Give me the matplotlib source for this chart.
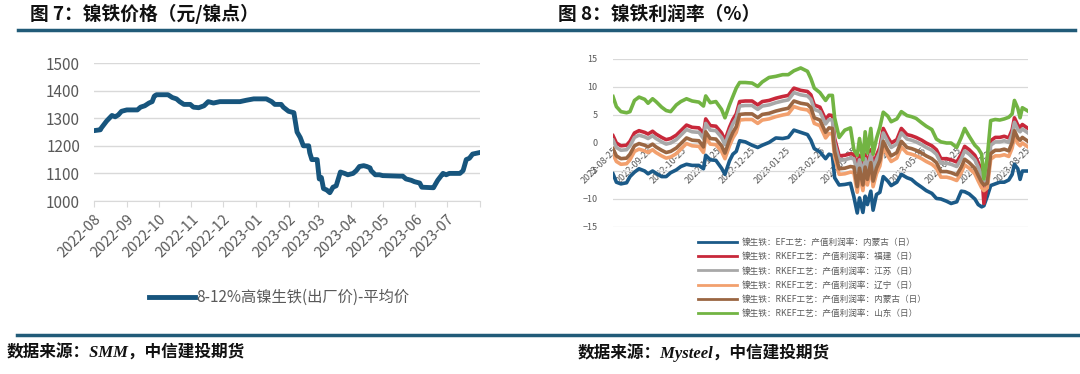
import matplotlib
matplotlib.use("Agg")
import matplotlib.pyplot as plt
import pandas as pd

plt.rcParams['font.family'] = ['Noto Sans CJK SC', 'DejaVu Sans']

# ---- 图7 data: 8-12%高镍生铁(出厂价)-平均价
price_dates = ['2022-08-01', '2022-08-07', '2022-08-08', '2022-08-13', '2022-08-18', '2022-08-21',
               '2022-08-24', '2022-08-27', '2022-09-01', '2022-09-11', '2022-09-14', '2022-09-18',
               '2022-09-22', '2022-09-25', '2022-09-27', '2022-09-29', '2022-10-10', '2022-10-14',
               '2022-10-18', '2022-10-21', '2022-10-25', '2022-10-31', '2022-11-03', '2022-11-08',
               '2022-11-13', '2022-11-17', '2022-11-22', '2022-11-28', '2022-12-17', '2022-12-23',
               '2022-12-30', '2023-01-11', '2023-01-16', '2023-01-19', '2023-01-25', '2023-01-27',
               '2023-02-01', '2023-02-06', '2023-02-09', '2023-02-12', '2023-02-15', '2023-02-20',
               '2023-02-21', '2023-02-23', '2023-02-28', '2023-03-02', '2023-03-04', '2023-03-06',
               '2023-03-09', '2023-03-12', '2023-03-15', '2023-03-18', '2023-03-20', '2023-03-22',
               '2023-03-26', '2023-03-29', '2023-04-03', '2023-04-06', '2023-04-09', '2023-04-13',
               '2023-04-16', '2023-04-19', '2023-04-20', '2023-04-24', '2023-04-28', '2023-05-01',
               '2023-05-17', '2023-05-20', '2023-05-23', '2023-05-28', '2023-05-31', '2023-06-05',
               '2023-06-07', '2023-06-18', '2023-06-19', '2023-06-22', '2023-06-26', '2023-06-27',
               '2023-06-30', '2023-07-03', '2023-07-13', '2023-07-16', '2023-07-19', '2023-07-22',
               '2023-07-25', '2023-07-31']
price_values = [1255, 1258, 1265, 1290, 1310, 1305, 1312, 1325, 1330, 1330, 1340, 1345,
                1355, 1360, 1380, 1385, 1385, 1375, 1370, 1360, 1350, 1350, 1340, 1338,
                1345, 1360, 1355, 1360, 1360, 1365, 1370, 1370, 1360, 1350, 1350, 1340,
                1325, 1320, 1250, 1230, 1200, 1200, 1175, 1150, 1150, 1080, 1085, 1045,
                1040, 1030, 1050, 1055, 1080, 1105, 1100, 1095, 1100, 1110, 1125, 1128,
                1125, 1120, 1110, 1095, 1095, 1092, 1090, 1090, 1080, 1075, 1070, 1065,
                1050, 1048, 1055, 1075, 1095, 1100, 1095, 1100, 1100, 1110, 1150, 1155,
                1170, 1175]
price_label = '8-12%高镍生铁(出厂价)-平均价'

# ---- 图8 data: 镍生铁产值利润率 (%)
profit_days = [0, 3, 7, 12, 15, 19, 23, 28, 31, 35, 38, 43, 47, 51, 56, 60, 65, 70, 76, 80,
               82, 86, 91, 96, 99, 103, 106, 109, 112, 117, 123, 128, 132, 138, 144, 150, 155, 160,
               166, 172, 175, 178, 183, 188, 191, 194, 196, 200, 205, 210, 213, 216, 218, 221,
               223, 225, 228, 230, 233, 236, 239, 243, 246, 251, 255, 260, 264, 268, 273, 277,
               282, 286, 290, 295, 299, 304, 308, 311, 315, 320, 323, 326, 328, 331, 334, 338,
               342, 346, 350, 353, 355, 358, 360, 362, 367]
ef_nmg = [-5.5, -7.0, -7.3, -7.1, -6.0, -5.2, -4.6, -5.0, -5.5, -5.0, -5.4, -6.0, -6.0, -5.3, -4.8,
          -4.2, -3.8, -4.0, -4.0, -4.6, -2.2, -3.0, -3.1, -4.5, -5.6, -3.2, -2.0, -1.5, 0.4, 0.2,
          -0.4, -0.8, -0.4, 0.1, 0.9, 0.8, 1.0, 2.3, 1.9, 1.5, 0.5, -1.0, -1.6, -2.8, -2.0, -2.2,
          -6.2, -7.5, -7.4, -7.2, -9.6, -12.5, -9.8, -12.4, -9.5, -11.0, -8.6, -12.0, -9.2, -8.8,
          -6.0, -6.8, -7.6, -7.0, -5.6, -6.2, -6.5, -7.2, -7.9, -8.5, -9.0, -9.9, -10.0, -10.4,
          -10.8, -10.5, -8.6, -8.7, -9.1, -10.0, -11.0, -11.4, -11.2, -9.5, -7.6, -7.3, -7.0,
          -7.0, -6.6, -5.6, -3.8, -4.6, -6.5, -5.0, -5.0]
rkef_fj = [1.3, 0.0, -0.5, -0.4, 0.3, 1.8, 2.2, 1.9, 1.6, 2.1, 1.6, 1.0, 0.6, 0.8, 1.4, 2.2, 3.2,
           2.8, 2.7, 1.6, 4.3, 3.1, 3.0, 1.8, 0.5, 2.8, 4.2, 5.2, 7.4, 7.5, 7.5, 6.8, 7.4, 7.6,
           8.0, 8.3, 8.5, 9.8, 9.4, 9.2, 8.6, 6.8, 6.4, 4.2, 5.0, 4.9, 0.8, -2.3, -2.2, -1.9,
           -2.0, -4.3, -2.2, -4.8, -2.0, -4.0, -1.2, -4.0, -2.2, -0.8, 2.6, 1.0, 0.0, 0.6, 2.6,
           1.5, 1.3, 1.0, 0.5, 0.0, -0.5, -1.2, -2.8, -2.8, -3.0, -3.4, -2.0, -0.6, -1.2, -2.2,
           -3.5, -5.0, -10.8, -7.5, 0.4, 1.0, 1.0, 1.2, 0.9, 2.4, 4.5, 3.2, 2.8, 3.3, 2.6]
rkef_js = [0.5, -0.8, -1.3, -1.2, -0.5, 1.0, 1.4, 1.1, 0.8, 1.3, 0.8, 0.2, -0.2, 0.0, 0.6, 1.4,
           2.4, 2.0, 1.9, 0.8, 3.5, 2.3, 2.2, 1.0, -0.3, 2.0, 3.4, 4.4, 6.6, 6.7, 6.7, 6.0, 6.6,
           6.8, 7.2, 7.5, 7.7, 9.0, 8.6, 8.4, 7.8, 6.0, 5.6, 3.4, 4.2, 4.1, 0.0, -3.1, -3.0, -2.7,
           -2.8, -5.1, -3.0, -5.6, -2.8, -4.8, -2.0, -4.8, -3.0, -1.6, 1.8, 0.2, -0.8, -0.2, 1.8,
           0.7, 0.5, 0.2, -0.3, -0.8, -1.3, -2.0, -3.6, -3.6, -3.8, -4.2, -2.8, -1.4, -2.0, -3.0,
           -4.3, -5.8, -7.0, -6.5, -0.4, 0.2, 0.2, 0.4, 0.1, 1.6, 3.7, 2.4, 2.0, 2.5, 1.8]
rkef_ln = [-2.0, -3.3, -3.8, -3.7, -3.0, -1.5, -1.1, -1.4, -1.7, -1.2, -1.7, -2.3, -2.7, -2.5,
           -1.9, -1.1, -0.1, -0.5, -0.6, -1.7, 1.0, -0.2, -0.3, -1.5, -2.8, -0.5, 0.9, 1.9, 4.1,
           4.2, 4.2, 3.5, 4.1, 4.3, 4.7, 5.0, 5.2, 6.5, 6.1, 5.9, 5.3, 3.5, 3.1, 0.9, 1.7, 1.6,
           -2.5, -5.6, -5.5, -5.2, -5.3, -8.8, -5.5, -8.5, -5.3, -7.5, -4.5, -7.8, -5.5, -4.1,
           -0.7, -2.3, -3.3, -2.7, -0.7, -1.8, -2.0, -2.3, -2.8, -3.3, -3.8, -4.5, -6.1, -6.1,
           -6.3, -6.7, -5.3, -3.9, -4.5, -5.5, -6.8, -8.0, -8.5, -8.0, -2.9, -2.3, -2.3, -2.1,
           -2.4, -0.9, 1.2, -0.1, -0.5, 0.0, -0.7]
rkef_nmg = [-1.0, -2.3, -2.8, -2.7, -2.0, -0.5, -0.1, -0.4, -0.7, -0.2, -0.7, -1.3, -1.7, -1.5,
            -0.9, -0.1, 0.9, 0.5, 0.4, -0.7, 2.0, 0.8, 0.7, -0.5, -1.8, 0.5, 1.9, 2.9, 5.1, 5.2,
            5.2, 4.5, 5.1, 5.3, 5.7, 6.0, 6.2, 7.5, 7.1, 6.9, 6.3, 4.5, 4.1, 1.9, 2.7, 2.6, -1.5,
            -4.6, -4.5, -4.2, -4.3, -7.8, -4.5, -7.5, -4.3, -6.5, -3.5, -6.8, -4.5, -3.1, 0.3,
            -1.3, -2.3, -1.7, 0.3, -0.8, -1.0, -1.3, -1.8, -2.3, -2.8, -3.5, -5.1, -5.1, -5.3,
            -5.7, -4.3, -2.9, -3.5, -4.5, -5.8, -7.0, -7.5, -7.2, -1.9, -1.3, -1.3, -1.1, -1.4,
            0.1, 2.2, 0.9, 0.5, 1.0, 0.3]
rkef_sd = [8.3, 6.5, 5.6, 5.4, 5.6, 7.6, 8.2, 7.8, 7.1, 7.9, 7.4, 6.4, 5.8, 5.6, 6.8, 7.4, 7.9,
           7.5, 7.3, 6.6, 8.4, 7.2, 7.4, 6.0, 4.5, 6.8, 8.3, 9.8, 10.8, 10.8, 10.7, 10.1, 10.9,
           11.7, 11.9, 12.2, 12.2, 12.9, 13.4, 12.8, 11.5, 9.8, 9.0, 7.6, 8.5, 8.5, 4.5, 1.0, 2.3,
           2.7, -1.2, -2.2, 0.8, -3.0, 2.0, -1.8, 2.6, -2.0, 0.8, 2.8, 5.5, 4.8, 3.8, 4.3, 5.6,
           4.9, 4.7, 4.4, 3.6, 3.0, 2.4, 0.7, 0.2, 0.0, 0.0, -0.8, 1.0, 2.6, 1.2, -0.4, -1.0,
           -2.0, -6.4, -2.5, 4.0, 4.2, 4.1, 4.3, 4.6, 5.2, 7.6, 6.2, 4.5, 6.3, 5.7]
profit_series = [
    ('镍生铁：EF工艺：产值利润率：内蒙古（日）', ef_nmg, '#1b5a88'),
    ('镍生铁：RKEF工艺：产值利润率：福建（日）', rkef_fj, '#c8283a'),
    ('镍生铁：RKEF工艺：产值利润率：江苏（日）', rkef_js, '#a8a8a8'),
    ('镍生铁：RKEF工艺：产值利润率：辽宁（日）', rkef_ln, '#f2a06e'),
    ('镍生铁：RKEF工艺：产值利润率：内蒙古（日）', rkef_nmg, '#9a6642'),
    ('镍生铁：RKEF工艺：产值利润率：山东（日）', rkef_sd, '#72b443'),
]
profit_ticks = ['2022-08-25', '2022-09-25', '2022-10-25', '2022-11-25', '2022-12-25',
                '2023-01-25', '2023-02-25', '2023-03-25', '2023-04-25', '2023-05-25',
                '2023-06-25', '2023-07-25', '2023-08-25']

fig = plt.figure(figsize=(10.8, 3.74), dpi=100)
bar_color = '#215b78'
txt_gray = '#595959'

# header / footer
fig.text(30 / 1080, 1 - 14 / 374, '图 7：镍铁价格（元/镍点）', fontsize=13.5, fontweight='bold',
         va='center', ha='left', color='#111111')
fig.text(558 / 1080, 1 - 14 / 374, '图 8：镍铁利润率（%）', fontsize=13.5, fontweight='bold',
         va='center', ha='left', color='#111111')
fig.add_artist(plt.Line2D([18 / 1080, 1075 / 1080], [1 - 30 / 374] * 2, color=bar_color, lw=2.5))
fig.add_artist(plt.Line2D([17 / 1080, 1078 / 1080], [1 - 335 / 374] * 2, color=bar_color, lw=2.5))
src_font = ['Liberation Serif', 'Noto Sans CJK SC']
fig.text(7 / 1080, 1 - 353 / 374, '数据来源：SMM，中信建投期货', fontsize=12, fontweight='bold',
         style='italic', family=src_font, va='center', ha='left', color='#111111')
fig.text(578 / 1080, 1 - 353 / 374, '数据来源：Mysteel，中信建投期货', fontsize=12, fontweight='bold',
         style='italic', family=src_font, va='center', ha='left', color='#111111')

# ---- left chart
ax1 = fig.add_axes([94 / 1080, 1 - 201 / 374, 386 / 1080, 138 / 374])
ax1.plot(pd.to_datetime(price_dates), price_values, color='#17557d', lw=3.5,
         solid_joinstyle='round', label=price_label)
ax1.set_ylim(1000, 1500)
ax1.set_yticks(range(1000, 1501, 100))
ax1.set_xlim(pd.Timestamp('2022-08-01'), pd.Timestamp('2023-08-01'))
month_ticks = pd.date_range('2022-08-01', '2023-08-01', freq='MS')
ax1.set_xticks(month_ticks)
ax1.set_xticklabels([d.strftime('%Y-%m') for d in month_ticks[:-1]] + [''],
                    rotation=45, ha='right', rotation_mode='anchor')
ax1.grid(axis='y', color='#d9d9d9', lw=1)
ax1.set_axisbelow(True)
for s in ['top', 'right', 'left']:
    ax1.spines[s].set_visible(False)
ax1.spines['bottom'].set_color('#d9d9d9')
ax1.tick_params(axis='y', length=0, labelsize=11, labelcolor=txt_gray, pad=10)
ax1.tick_params(axis='x', length=4, color='#d9d9d9', labelsize=10.5, labelcolor=txt_gray, pad=4)
ax1.legend(loc='center', bbox_to_anchor=(0.48, -0.70), frameon=False, fontsize=11,
           handlelength=3.0, labelcolor=txt_gray, handletextpad=0.1)

# ---- right chart
ax2 = fig.add_axes([613 / 1080, 1 - 227 / 374, 415 / 1080, 168 / 374])
start = pd.Timestamp('2022-08-25')
pdates = [start + pd.Timedelta(days=d) for d in profit_days]
for name, vals, col in profit_series:
    ax2.plot(pdates, vals, color=col, lw=2.6, label=name, solid_joinstyle='round')
ax2.spines['bottom'].set_position(('data', 0))
ax2.set_ylim(-15, 15)
ax2.set_yticks(range(-15, 16, 5))
ax2.set_xlim(start, pd.Timestamp('2023-08-27'))
ax2.set_xticks(pd.to_datetime(profit_ticks))
ax2.set_xticklabels(profit_ticks, rotation=45, ha='right', rotation_mode='anchor')
for s in ['top', 'right', 'left', 'bottom']:
    ax2.spines[s].set_visible(False)
ax2.grid(axis='y', color='#d9d9d9', lw=0.9)
ax2.set_axisbelow(True)
ax2.tick_params(axis='y', length=0, labelsize=6.5, labelcolor=txt_gray, pad=11)
ax2.tick_params(axis='x', length=0, labelsize=6.5, labelcolor=txt_gray, pad=2)
leg = ax2.legend(loc='upper center', bbox_to_anchor=(0.48, -0.02), frameon=False, fontsize=6.2,
                 handlelength=4.6, labelcolor=txt_gray, labelspacing=0.6, handletextpad=0.5)
for h in leg.get_lines():
    h.set_linewidth(2)

fig.savefig('out.png', dpi=100)
